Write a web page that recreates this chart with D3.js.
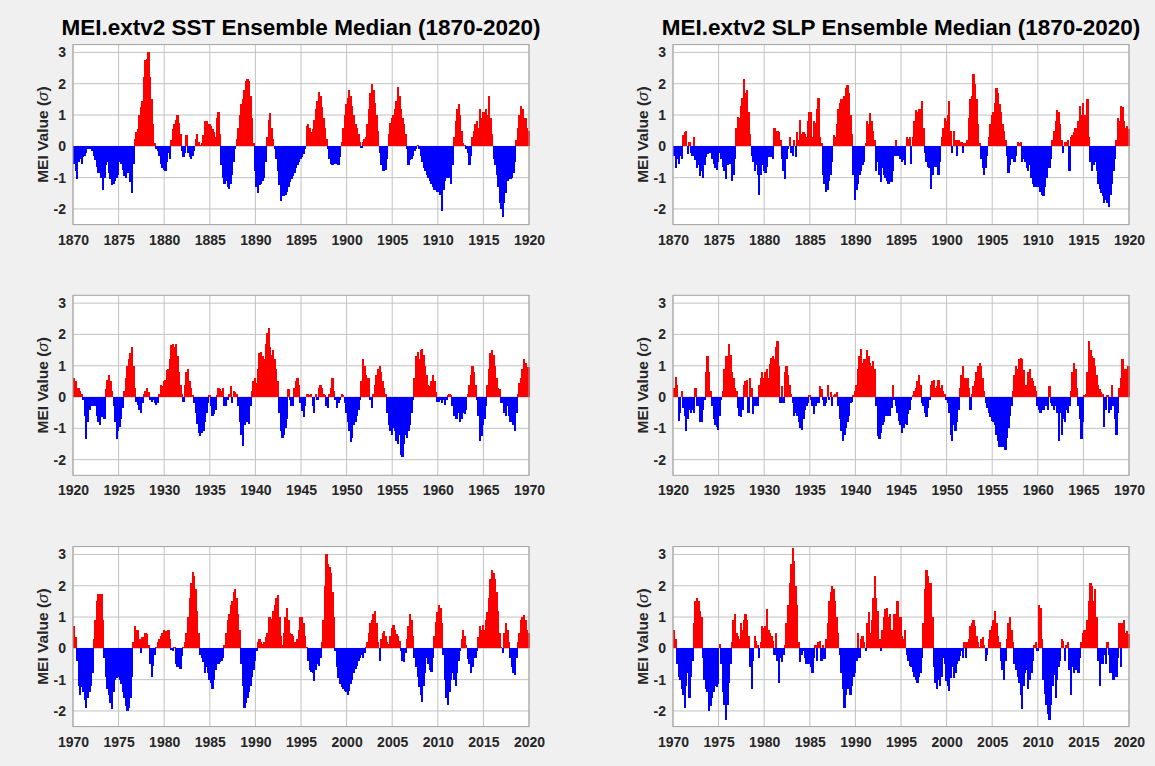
<!DOCTYPE html>
<html><head><meta charset="utf-8">
<script src="https://cdn.jsdelivr.net/npm/d3@7"></script>
<style>html,body{margin:0;padding:0;background:#f0f0f0;}svg{display:block;}</style>
</head><body><svg id="c" width="1155" height="766"></svg>
<script>
// ---- data (bimonthly readings, 6 values per year) ----
const yTicks = [-2, -1, 0, 1, 2, 3];
const periods = [[1870, 1920], [1920, 1970], [1970, 2020]];
const titles = ["MEI.extv2 SST Ensemble Median (1870-2020)", "MEI.extv2 SLP Ensemble Median (1870-2020)"];
const yLabel = "MEI Value (";
const perYear = 6;

const sst1870 = [
-0.55,-0.8,-1.05,-0.5,-0.4,-0.55, -0.35,-0.3,-0.2,-0.1,-0.1,-0.05, -0.15,-0.3,-0.45,-0.65,-0.85,-0.8,
-1.0,-1.4,-1.0,-0.6,-0.5,-0.85, -1.05,-1.25,-1.2,-1.1,-1.0,-0.9, -0.5,-0.55,-0.75,-0.95,-1.0,-0.85,
-0.75,-1.15,-1.5,-0.55,0.25,0.45, 0.55,1.0,1.25,1.45,2.2,2.75, 2.8,3.0,2.2,1.5,0.7,0.1,
-0.1,-0.15,-0.3,-0.55,-0.7,-0.75, -0.8,-0.5,-0.2,-0.4,0.2,0.55, 0.7,0.85,1.0,0.75,0.4,-0.15,
-0.35,-0.2,0.35,-0.2,-0.35,-0.4, -0.3,-0.15,0.25,0.4,0.15,0.05, 0.1,0.35,0.8,0.8,0.55,0.7,
0.65,0.55,0.45,0.3,0.9,1.1, 0.4,-0.6,-1.0,-1.2,-1.1,-1.3, -1.35,-1.2,-0.9,-0.5,-0.1,0.25,
0.6,1.0,1.35,1.5,1.8,2.1, 2.15,2.1,1.6,0.9,0.1,-0.8, -1.3,-1.5,-1.25,-1.2,-1.1,-1.0,
-0.5,0.3,0.85,1.05,0.6,0.25, -0.1,-0.4,-0.8,-1.25,-1.75,-1.6, -1.6,-1.55,-1.45,-1.3,-1.15,-1.05,
-0.95,-0.85,-0.7,-0.6,-0.5,-0.4, -0.35,-0.25,-0.1,0.65,0.7,0.6, 0.45,0.55,0.85,1.2,1.45,1.75,
1.6,1.25,0.9,0.6,0.25,-0.1, -0.4,-0.55,-0.6,-0.5,-0.55,-0.5, -0.6,-0.35,0.15,0.6,1.0,1.35,
1.55,1.8,1.6,1.3,1.0,0.7, 0.6,0.4,0.15,-0.05,0.15,0.25, 0.3,0.7,1.2,1.7,2.0,1.8,
1.4,1.0,0.5,-0.2,-0.6,-0.8, -0.8,-0.75,-0.4,0.4,0.75,0.9, 1.0,1.2,1.45,1.9,1.6,1.2,
0.9,0.7,0.4,-0.1,-0.6,-0.45, -0.4,-0.3,-0.15,-0.1,0.05,-0.1, -0.3,-0.5,-0.7,-0.8,-0.9,-1.0,
-1.1,-1.2,-1.3,-1.4,-1.4,-1.45, -1.45,-1.55,-2.05,-1.4,-1.1,-1.0, -0.95,-1.0,-1.2,-0.6,0.3,0.8,
1.2,1.35,1.0,0.5,0.1,0.05, -0.1,-0.2,-0.6,-0.3,0.3,0.5, 0.7,0.8,0.6,1.2,0.9,1.1,
1.1,1.2,1.0,1.6,0.9,0.4, -0.4,-0.6,-0.9,-1.3,-1.8,-2.0, -2.25,-1.8,-1.5,-1.1,-1.0,-1.05,
-1.0,-0.85,-0.5,0.2,0.6,1.0, 1.3,1.2,0.9,0.9,0.6,0.5
];

const slp1870 = [
-0.3,-0.7,-0.4,-0.55,-0.3,-0.4, 0.35,0.45,0.5,-0.25,0.15,-0.2, -0.3,0.3,-0.45,-0.7,-0.6,-0.95,
-0.8,-1.0,-0.6,-0.35,-0.25,-0.2, -0.2,-0.4,-0.55,-0.7,-0.75,-0.5, -0.2,-0.4,-0.65,-0.8,-1.05,-0.6,
-0.3,-0.55,-1.1,-0.9,-0.4,0.6, 0.95,0.9,1.3,1.55,2.15,1.7, 1.8,1.1,0.4,-0.3,-0.5,-0.8,
-0.6,-0.9,-1.55,-0.9,-0.6,-0.8, -0.85,-0.65,-0.35,-0.3,-0.35,-0.4, 0.6,0.3,0.5,0.45,0.2,-0.4,
-0.8,-1.05,-0.4,-0.1,0.3,-0.2, -0.3,0.2,-0.35,0.45,0.2,0.85, 0.4,0.45,0.4,0.3,0.8,1.1,
1.1,0.3,0.8,0.75,1.2,1.55, 0.3,0.1,-0.9,-1.2,-1.45,-1.4, -1.1,-0.9,-0.5,0.35,0.3,0.7,
1.2,1.4,1.5,1.3,1.6,1.85, 1.95,1.7,1.0,0.4,-0.9,-1.7, -1.4,-1.2,-0.9,-0.8,-0.6,-0.5,
0.1,0.8,0.7,1.05,0.8,0.5, 0.2,-0.8,-0.5,-0.9,-1.15,-0.7, -0.9,-1.0,-1.1,-1.2,-1.1,-1.15,
-0.8,-0.3,0.2,-0.3,-0.25,-0.4, -0.5,-0.45,-0.6,0.3,0.25,0.3, -0.55,0.3,0.8,1.15,1.1,1.2,
1.2,1.45,0.6,-0.2,-0.5,-0.65, -0.7,-1.35,-0.9,-0.5,-0.65,-0.4, -0.9,-0.5,0.3,0.6,0.9,0.8,
1.0,1.45,0.5,-0.2,0.5,0.2, -0.3,0.2,0.1,0.15,-0.2,0.1, 0.1,0.2,0.9,1.5,1.6,2.3,
2.0,1.5,0.7,0.1,-0.4,-0.7, -0.9,-0.7,-0.3,0.3,0.7,1.0, 1.1,1.4,1.85,1.7,1.35,1.1,
0.7,0.5,0.2,-0.3,-0.85,-0.6, -0.4,-0.35,-0.5,-0.3,0.15,0.1, 0.15,-0.5,-0.4,-0.5,-0.7,-0.8,
-0.6,-1.0,-1.2,-1.3,-1.1,-1.3, -1.2,-1.45,-1.55,-1.6,-1.3,-1.0, -0.5,-0.7,-0.4,0.2,0.5,0.8,
1.15,1.1,0.7,0.2,-0.2,0.15, 0.15,0.2,-0.8,0.3,0.35,0.45, 0.6,0.5,0.8,1.3,1.0,1.4,
1.0,0.7,1.5,0.3,-0.5,-0.8, -0.6,-0.5,-0.8,-1.2,-1.35,-1.5, -1.6,-1.8,-1.7,-1.8,-1.95,-1.55,
-1.2,-0.8,-0.4,0.2,0.9,0.8, 1.3,1.25,0.8,0.6,0.65,0.55
];

const sst1920 = [
0.6,0.5,0.3,0.3,0.2,0.1, -0.1,-0.6,-1.35,-0.8,-0.4,-0.25, -0.3,-0.2,-0.3,-0.6,-0.8,-0.9,
-0.65,-0.6,-0.7,0.25,0.55,0.7, 0.5,0.2,-0.3,-0.8,-1.35,-1.1, -0.95,-0.7,-0.35,0.2,0.6,1.0,
1.2,1.4,1.6,1.0,0.3,-0.15, -0.25,-0.4,-0.5,-0.2,0.1,0.2, 0.3,0.15,-0.1,-0.15,-0.1,-0.2,
-0.25,-0.2,0.1,0.4,0.35,0.5, 0.55,0.85,0.9,1.2,1.65,1.7, 1.6,1.7,1.3,0.8,0.4,0.1,
-0.15,0.4,0.8,0.9,0.5,0.3, 0.05,-0.2,-0.5,-0.85,-1.15,-1.25, -1.15,-1.1,-0.8,-0.5,-0.2,0.05,
-0.3,-0.6,-0.55,-0.4,0.05,0.3, 0.25,0.2,0.3,-0.3,-0.3,-0.1, 0.1,0.35,-0.2,0.2,0.15,0.1,
-0.3,-0.8,-1.2,-1.55,-0.9,-0.8, -0.8,-0.85,-0.3,0.2,0.5,0.6, 0.45,0.9,1.4,1.45,1.3,1.2,
1.7,2.05,2.2,1.6,1.35,1.5, 1.2,0.9,0.5,-0.5,-1.1,-1.3, -1.2,-1.0,-0.7,0.25,-0.1,-0.3,
-0.3,0.3,0.5,0.6,0.4,-0.2, -0.45,-0.65,-0.3,0.1,0.1,0.05, 0.1,-0.3,-0.5,0.1,-0.1,0.3,
0.4,0.3,0.1,0.05,-0.3,-0.35, 0.1,0.3,0.6,0.2,-0.1,-0.35, -0.2,-0.1,0.1,0.05,-0.2,-0.5,
-0.8,-1.1,-1.45,-1.3,-0.9,-0.8, -0.6,-0.4,-0.1,0.5,1.2,1.0, 0.7,0.6,0.6,-0.1,-0.35,0.1,
0.4,0.7,0.9,1.0,0.8,0.5, 0.3,0.1,-0.5,-0.9,-1.1,-1.2, -1.0,-1.1,-1.4,-1.5,-1.2,-1.85,
-1.9,-1.5,-1.2,-1.3,-1.1,-0.9, -0.5,-0.1,0.6,1.3,1.45,1.2, 1.5,1.55,1.35,1.0,0.7,0.4,
0.35,0.5,0.7,0.5,0.15,-0.15, -0.15,-0.1,-0.2,-0.1,-0.25,-0.1, 0.05,0.1,0.05,-0.3,-0.6,-0.7,
-0.7,-0.5,-0.8,-0.7,-0.5,-0.55, -0.4,0.1,0.4,0.7,1.0,0.8, 0.4,-0.1,-0.6,-1.4,-1.25,-0.9,
-0.7,-0.3,0.4,0.9,1.4,1.5, 1.35,1.0,0.6,0.3,0.25,-0.2, -0.2,-0.5,-0.6,-0.3,-0.6,-0.8,
-0.7,-0.9,-1.1,-0.5,0.1,0.45, 0.6,0.9,1.2,1.1,0.9,0.95
];

const slp1920 = [
0.3,0.65,0.4,-0.75,-0.5,0.2, -0.35,-0.6,-1.1,-0.7,-0.4,-0.5, -0.4,-0.5,0.3,-0.3,-0.3,-0.8,
-0.8,-0.4,-0.1,0.8,1.3,0.8, 0.2,-0.3,-0.7,-0.9,-0.95,-1.05, -0.6,-0.1,0.2,0.9,1.3,1.3,
1.7,1.35,0.8,0.6,0.3,0.2, -0.35,-0.6,-0.65,-0.4,0.4,0.5, 0.55,-0.5,0.6,0.3,-0.55,-0.3,
-0.3,-0.3,0.4,0.6,0.8,0.6, 0.8,0.9,0.6,1.05,1.25,1.3, 1.2,1.6,1.8,1.0,-0.2,0.35,
-0.2,0.8,1.0,0.7,0.4,0.1, -0.2,-0.6,-0.5,-0.6,-0.8,-1.0, -1.05,-0.7,-0.4,-0.3,-0.2,0.05,
-0.1,-0.3,-0.55,-0.3,-0.2,-0.2, 0.35,0.25,-0.1,-0.3,-0.2,0.4, -0.1,0.15,-0.3,0.05,0.1,0.15,
-0.3,-0.7,-1.1,-1.4,-1.2,-1.0, -0.8,-0.6,-0.2,-0.15,0.05,0.2, 0.4,0.9,1.3,1.55,1.1,1.2,
1.2,1.5,1.3,1.1,1.0,1.15, 0.9,-0.3,-1.25,-1.35,-1.15,-0.9, -0.8,-0.6,-0.35,-0.6,-0.6,-0.35,
0.4,-0.1,-0.3,-0.5,-0.75,-0.9, -1.15,-1.0,-0.85,-0.9,-0.55,-0.4, -0.1,0.05,0.2,0.3,0.5,0.7,
0.4,-0.2,-0.3,-0.5,-0.65,-0.35, -0.1,0.4,0.5,0.55,0.3,0.35, 0.55,0.3,0.4,0.2,0.1,-0.1,
-0.2,-0.5,-1.2,-1.4,-0.9,-1.1, -0.8,-0.4,0.3,0.7,1.0,0.6, 0.6,0.6,0.3,-0.4,0.1,0.35,
0.5,0.8,1.0,1.1,1.0,0.6, 0.2,-0.2,-0.35,-0.5,-0.65,-0.75, -0.8,-0.9,-1.2,-1.4,-1.6,-1.5,
-1.6,-1.3,-1.7,-1.3,-1.0,-0.6, -0.3,0.2,0.7,1.0,0.9,1.2, 1.25,1.2,0.85,0.4,0.4,0.8,
0.9,0.6,0.5,0.35,0.2,-0.3, -0.4,-0.5,-0.3,-0.4,-0.3,-0.3, -0.4,0.35,-0.2,-0.3,-0.4,-0.3,
-0.5,-1.4,-0.5,-1.2,-0.7,-0.8, -0.4,-0.5,-0.3,0.2,0.8,1.1, 0.9,0.3,-0.3,-0.7,-1.35,-0.8,
0.05,0.1,0.8,1.8,1.5,1.3, 1.25,1.0,0.7,0.4,0.25,0.15, 0.1,-0.95,-0.4,0.05,-0.5,-0.4,
0.4,-0.3,-0.7,-1.2,-0.5,0.3, 0.6,1.2,0.8,0.9,0.9,1.0
];

const sst1970 = [
0.7,0.35,-0.4,-1.2,-1.5,-1.25, -1.4,-1.65,-1.9,-1.6,-1.4,-1.2, -0.8,0.3,0.9,1.5,1.75,1.7,
1.75,0.9,-0.3,-0.9,-1.3,-1.5, -1.75,-1.95,-1.4,-1.0,-0.95,-0.9, -1.0,-1.15,-1.4,-1.6,-1.85,-2.0,
-1.9,-1.6,-0.9,0.2,0.7,0.6, 0.6,0.3,-0.15,0.35,0.3,0.5, 0.45,0.1,-0.5,-0.9,-0.55,-0.2,
0.05,0.2,0.3,0.4,0.5,0.6, 0.55,0.55,0.6,0.3,-0.05,-0.1, 0.05,-0.5,-0.6,-0.55,-0.65,-0.25,
0.05,0.2,0.5,1.0,1.6,2.1, 2.45,2.3,1.9,1.2,0.5,-0.2, -0.3,-0.45,-0.8,-0.6,-0.8,-1.0,
-1.1,-1.3,-1.0,-0.7,-0.5,-0.5, -0.45,-0.4,-0.3,0.1,0.5,0.9, 1.1,1.4,1.5,1.8,1.9,1.6,
1.1,0.6,-0.5,-1.2,-1.9,-1.75, -1.6,-1.4,-1.2,-0.9,-0.7,-0.4, -0.1,0.2,0.3,0.2,0.15,0.2,
0.35,0.5,1.0,1.0,0.95,1.2, 1.4,1.6,1.7,1.0,0.4,0.1, 0.5,1.0,1.3,0.9,0.5,0.45,
0.4,0.2,0.15,0.3,0.6,1.0, 1.0,0.8,0.4,0.05,-0.4,-0.7, -0.75,-0.8,-1.05,-0.7,-0.5,-0.55,
-0.3,0.2,0.9,2.0,3.0,2.7, 2.6,2.4,1.8,1.0,-0.1,-0.6, -0.95,-1.15,-1.25,-1.3,-1.35,-1.4,
-1.5,-1.35,-1.15,-1.0,-0.8,-0.65, -0.55,-0.4,-0.3,-0.2,-0.3,-0.15, 0.05,0.2,0.5,0.8,0.9,1.1,
1.2,0.8,0.2,-0.4,0.3,0.5, 0.55,0.4,0.2,0.15,0.4,0.65, 0.75,0.6,0.45,0.4,0.25,-0.1,
-0.4,-0.45,-0.15,0.3,0.7,1.1, 0.9,0.4,-0.3,-0.6,-0.9,-1.25, -1.5,-1.7,-1.2,-0.8,-0.3,-0.5,
-0.7,-0.75,-0.3,0.4,0.85,1.15, 1.4,1.3,0.8,-0.2,-1.0,-1.6, -1.8,-1.4,-1.0,-0.8,-1.0,-1.2,
-0.8,-0.4,-0.1,0.3,0.6,0.4, 0.1,-0.35,-0.5,-0.8,-0.6,-0.3, -0.3,-0.1,0.35,0.7,0.6,0.75,
0.6,0.9,1.15,1.6,2.2,2.5, 2.4,2.2,1.8,1.2,0.5,0.05, -0.15,0.5,0.8,0.6,0.2,-0.3,
-0.6,-0.8,-0.85,-0.3,0.2,0.5, 0.9,1.0,1.05,0.9,0.6,0.5
];

const slp1970 = [
0.6,0.3,-0.5,-0.9,-1.0,-1.3, -1.5,-1.9,-1.2,-0.8,-1.6,-0.9, -0.4,0.8,1.5,1.6,1.5,1.2,
1.0,-0.3,-1.0,-1.3,-1.4,-2.0, -1.85,-1.6,-1.4,-1.2,-1.25,-1.15, 0.15,-0.5,-1.4,-1.8,-2.3,-1.8,
-1.1,-0.5,0.2,0.9,1.1,0.5, 0.4,0.3,0.8,0.6,0.9,1.1, 0.9,0.4,-0.6,-1.3,-0.4,0.4,
0.25,0.1,-0.3,0.2,0.7,0.65, 0.7,1.25,0.6,0.5,0.4,0.25, -0.2,0.5,-0.4,-1.1,-0.3,-0.45,
-0.2,0.1,0.8,1.4,2.1,2.7, 3.2,2.8,2.0,1.4,0.2,-0.45, -0.2,-0.1,-0.3,-0.5,-0.35,-0.5,
-0.6,-0.8,-0.3,0.1,-0.4,0.2, 0.25,-0.4,0.1,-0.35,0.3,0.8, 1.5,1.8,2.0,1.9,1.5,1.0,
0.5,-0.2,-0.8,-1.3,-1.9,-1.5, -1.3,-1.1,-1.5,-1.2,-0.9,-0.8, -0.4,0.5,-0.3,0.3,0.4,0.2,
-0.1,0.8,1.15,0.5,0.9,1.6, 2.3,1.6,1.2,0.3,-0.1,0.6, 1.0,1.25,1.3,1.0,1.1,0.6,
0.5,1.1,0.9,1.5,1.0,1.0, 0.4,0.3,0.6,-0.2,-0.4,-0.55, -0.6,-0.75,-0.9,-1.0,-1.1,-0.9,
-0.8,-0.3,0.8,1.9,2.5,2.3, 2.1,2.1,1.0,-0.6,-1.1,-1.3, -1.0,-1.2,-0.9,-0.3,-0.5,-1.05,
-1.2,-1.35,-0.95,-0.6,-0.95,-0.8, -0.5,-0.4,-0.25,-0.1,-0.3,0.2, -0.3,0.2,0.3,0.7,0.8,0.9,
0.7,0.4,0.2,0.05,0.3,0.35, 0.1,-0.4,-0.2,0.3,0.6,0.7, 0.9,1.2,0.8,0.4,0.2,-0.4,
-0.7,-1.0,-0.4,0.3,0.8,1.0, 0.6,0.2,-0.5,-0.7,-0.9,-1.1, -1.5,-1.95,-1.2,-0.8,-0.7,-1.3,
-1.0,-0.8,-0.4,0.1,0.2,-0.1, 1.4,1.3,0.3,-1.0,-1.45,-1.8, -2.1,-2.3,-1.8,-1.2,-0.85,-1.6,
-1.0,-0.6,-0.4,0.3,0.25,-0.4, 0.1,0.2,-0.7,-1.5,-0.6,-0.8, -0.7,-0.4,-0.8,-0.3,0.2,0.5,
0.6,0.4,0.9,1.5,2.1,2.0, 1.5,1.9,1.0,-0.4,-1.2,-0.5, -0.5,-0.2,-0.5,0.2,-0.2,-0.8,
-0.7,-1.0,-0.8,-0.9,-0.3,0.8, -0.6,0.8,0.9,0.5,0.55,0.45
];

// ---- layout ----
const colX = [73, 673], rowY = [44.6, 295.3, 546.6], pw = 456, ph = 180;
const yDomain = [-2.5, 3.25];
const posColor = "#ff0000", negColor = "#0000ff";
const panels = [
  {col: 0, row: 0, data: sst1870}, {col: 1, row: 0, data: slp1870},
  {col: 0, row: 1, data: sst1920}, {col: 1, row: 1, data: slp1920},
  {col: 0, row: 2, data: sst1970}, {col: 1, row: 2, data: slp1970}
];
const font = "'Liberation Sans', Arial, Helvetica, sans-serif";
const svg = d3.select("#c");
svg.append("rect").attr("width", 1155).attr("height", 766).attr("fill", "#f0f0f0");

panels.forEach(p => {
  const [y0, y1] = periods[p.row];
  const g = svg.append("g").attr("transform", `translate(${colX[p.col]},${rowY[p.row]})`);
  const x = d3.scaleLinear().domain([y0, y1]).range([0, pw]);
  const y = d3.scaleLinear().domain(yDomain).range([ph, 0]);
  const xTicks = d3.range(y0, y1 + 1, 5);

  g.append("rect").attr("width", pw).attr("height", ph).attr("fill", "#fff");
  // grid
  g.append("g").selectAll("line").data(xTicks).join("line")
    .attr("x1", d => x(d)).attr("x2", d => x(d)).attr("y1", 0).attr("y2", ph)
    .attr("stroke", "#c2c2c2").attr("stroke-width", 1);
  g.append("g").selectAll("line").data(yTicks).join("line")
    .attr("x1", 0).attr("x2", pw).attr("y1", d => y(d)).attr("y2", d => y(d))
    .attr("stroke", "#c2c2c2").attr("stroke-width", 1);

  // bars
  const pts = p.data.map((v, i) => ({t: y0 + i / perYear, v}));
  const bw = x(y0 + 1 / perYear) - x(y0);
  g.append("g").attr("shape-rendering", "crispEdges").selectAll("rect").data(pts).join("rect")
    .attr("x", d => x(d.t))
    .attr("width", bw + 0.8)
    .attr("y", d => d.v >= 0 ? y(d.v) : y(0))
    .attr("height", d => Math.abs(y(d.v) - y(0)))
    .attr("fill", d => d.v >= 0 ? posColor : negColor);

  // frame
  g.append("rect").attr("width", pw).attr("height", ph).attr("fill", "none")
    .attr("stroke", "#a0a0a0").attr("stroke-width", 1);

  // axes
  const ax = g.append("g").attr("transform", `translate(0,${ph})`)
    .call(d3.axisBottom(x).tickValues(xTicks).tickFormat(d3.format("d")).tickSize(0).tickPadding(10));
  const ay = g.append("g")
    .call(d3.axisLeft(y).tickValues(yTicks).tickFormat(d => d < 0 ? "-" + Math.abs(d) : String(d)).tickSize(0).tickPadding(7));
  [ax, ay].forEach(a => {
    a.select(".domain").remove();
    a.selectAll("text").attr("font-family", font).attr("font-size", 14)
      .attr("font-weight", "bold").attr("fill", "#262626");
  });

  // y label
  const lab = g.append("text").attr("transform", `translate(-25,${ph / 2}) rotate(-90)`)
    .attr("text-anchor", "middle").attr("font-family", font).attr("font-size", 15.5)
    .attr("font-weight", "bold").attr("fill", "#262626");
  lab.append("tspan").text(yLabel);
  lab.append("tspan").attr("font-style", "italic").attr("font-weight", "normal").text("σ");
  lab.append("tspan").text(")");

  if (p.row === 0) {
    g.append("text").attr("x", pw / 2).attr("y", -10).attr("text-anchor", "middle")
      .attr("font-family", font).attr("font-size", 22.5).attr("font-weight", "bold")
      .attr("fill", "#000").text(titles[p.col]);
  }
});
</script></body></html>
